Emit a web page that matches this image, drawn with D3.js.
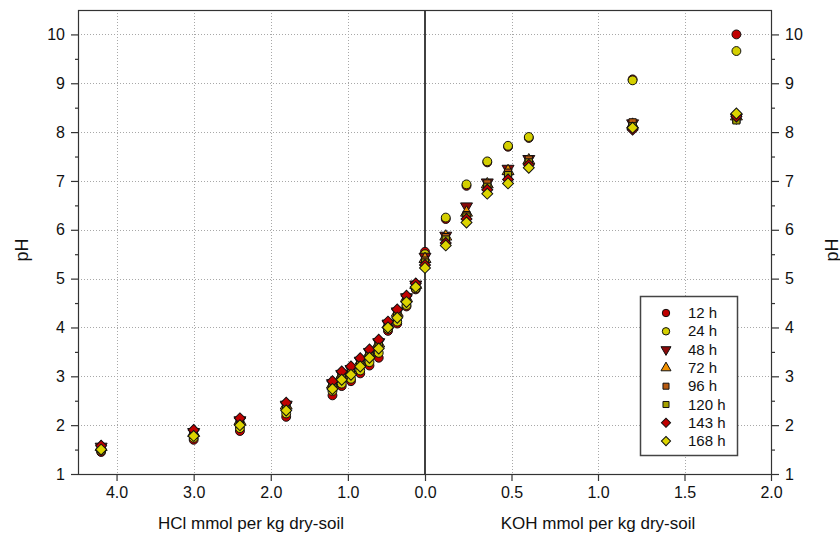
<!DOCTYPE html>
<html lang="en">
<head>
	<meta charset="UTF-8">
	<title>pH titration</title>
	<style>
		*{margin:0;padding:0;}
		body{background:#fff;}
		svg text{font-family:"Liberation Sans", Arial, sans-serif;}
	</style>
</head>
<body>
	<div id="container"></div>
	<script src="https://cdn.jsdelivr.net/npm/d3@7"></script>
	<script>
		// acid side (HCl) and base side (KOH) doses
		var hcl = [4.2, 3.0, 2.4, 1.8, 1.2, 1.08, 0.96, 0.84, 0.72, 0.6, 0.48, 0.36, 0.24, 0.12, 0]
		var koh = [0.12, 0.24, 0.36, 0.48, 0.6, 1.2, 1.8]
		var labels = ['12 h', '24 h', '48 h', '72 h', '96 h', '120 h', '143 h', '168 h']

		// pH values per series, HCl side then KOH side
		var acid12  = [1.45, 1.70, 1.88, 2.17, 2.61, 2.80, 2.90, 3.06, 3.22, 3.38, 3.93, 4.08, 4.43, 4.78, 5.55]
		var acid24  = [1.48, 1.74, 1.94, 2.24, 2.70, 2.85, 2.95, 3.12, 3.29, 3.48, 3.97, 4.12, 4.46, 4.80, 5.50]
		var acid48  = [1.56, 1.86, 2.10, 2.42, 2.86, 3.05, 3.15, 3.32, 3.50, 3.70, 4.08, 4.33, 4.62, 4.88, 5.45]
		var acid72  = [1.55, 1.84, 2.08, 2.40, 2.83, 3.02, 3.12, 3.29, 3.47, 3.67, 4.06, 4.30, 4.60, 4.87, 5.40]
		var acid96  = [1.54, 1.82, 2.05, 2.37, 2.80, 3.00, 3.10, 3.27, 3.45, 3.65, 4.05, 4.27, 4.57, 4.86, 5.37]
		var acid120 = [1.52, 1.80, 2.02, 2.34, 2.78, 2.97, 3.07, 3.24, 3.42, 3.62, 4.03, 4.24, 4.55, 4.85, 5.33]
		var acid143 = [1.58, 1.90, 2.14, 2.46, 2.90, 3.10, 3.20, 3.37, 3.55, 3.75, 4.12, 4.37, 4.65, 4.90, 5.28]
		var acid168 = [1.50, 1.78, 2.00, 2.30, 2.74, 2.93, 3.03, 3.20, 3.38, 3.57, 4.00, 4.20, 4.52, 4.83, 5.22]

		var base12  = [6.22, 6.90, 7.38, 7.70, 7.88, 9.08, 10.00]
		var base24  = [6.25, 6.93, 7.40, 7.72, 7.90, 9.06, 9.66]
		var base48  = [5.88, 6.48, 6.97, 7.25, 7.45, 8.18, 8.30]
		var base72  = [5.86, 6.35, 6.93, 7.20, 7.42, 8.15, 8.32]
		var base96  = [5.85, 6.30, 6.95, 7.17, 7.44, 8.20, 8.26]
		var base120 = [5.80, 6.27, 6.88, 7.12, 7.38, 8.12, 8.24]
		var base143 = [5.73, 6.22, 6.82, 7.03, 7.33, 8.05, 8.32]
		var base168 = [5.68, 6.15, 6.74, 6.95, 7.27, 8.09, 8.38]

		var yTicks = [1, 2, 3, 4, 5, 6, 7, 8, 9, 10]
		var hclTicks = [4, 3, 2, 1, 0]
		var kohTicks = [0.5, 1, 1.5, 2]

		var acid = [acid12, acid24, acid48, acid72, acid96, acid120, acid143, acid168]
		var base = [base12, base24, base48, base72, base96, base120, base143, base168]
		var symbols = [d3.symbolCircle, d3.symbolCircle, d3.symbolTriangle, d3.symbolTriangle,
			d3.symbolSquare, d3.symbolSquare, d3.symbolSquare, d3.symbolSquare]
		var turn = [0, 0, 180, 0, 0, 0, 45, 45]
		var colors = ['#c00000', '#d4cf00', '#8b0a0a', '#f09000', '#b85a10', '#a5a000', '#c00000', '#dcd400']
		var sizes = [62, 62, 62, 62, 52, 52, 60, 60]

		var width = 840, height = 549
		var pLeft = 78, pMid = 425, pRight = 771, pTop = 10, pBottom = 474

		var svg = d3.select('#container').append('svg').attr('width', width).attr('height', height)

		var xL = d3.scaleLinear().domain([4.5, 0]).range([pLeft, pMid])
		var xR = d3.scaleLinear().domain([0, 2]).range([pMid, pRight])
		var y = d3.scaleLinear().domain([1, 10.5]).range([pBottom, pTop])

		// grid
		var grid = svg.append('g').attr('stroke', '#a8a8a8').attr('stroke-dasharray', '1,2').attr('stroke-width', 1)
		grid.selectAll('.gy').data(yTicks.slice(1)).enter().append('line')
			.attr('x1', pLeft).attr('x2', pRight)
			.attr('y1', function (d) { return Math.round(y(d)) + 0.5 })
			.attr('y2', function (d) { return Math.round(y(d)) + 0.5 })
		grid.selectAll('.gl').data(hclTicks.slice(0, 4)).enter().append('line')
			.attr('x1', function (d) { return Math.round(xL(d)) + 0.5 })
			.attr('x2', function (d) { return Math.round(xL(d)) + 0.5 })
			.attr('y1', pTop).attr('y2', pBottom)
		grid.selectAll('.gr').data(kohTicks.slice(0, 3)).enter().append('line')
			.attr('x1', function (d) { return Math.round(xR(d)) + 0.5 })
			.attr('x2', function (d) { return Math.round(xR(d)) + 0.5 })
			.attr('y1', pTop).attr('y2', pBottom)

		// zero line
		svg.append('line').attr('x1', pMid).attr('x2', pMid).attr('y1', pTop).attr('y2', pBottom)
			.attr('stroke', '#111').attr('stroke-width', 1.6)

		// frame
		svg.append('rect').attr('x', pLeft + 0.5).attr('y', pTop + 0.5)
			.attr('width', pRight - pLeft).attr('height', pBottom - pTop)
			.attr('fill', 'none').attr('stroke', '#333').attr('stroke-width', 1.2)

		function styleAxis(g) {
			g.select('.domain').remove()
			g.selectAll('.tick line').attr('stroke', '#333').attr('stroke-width', 1.2)
			g.selectAll('.tick text').attr('font-size', 16).attr('fill', '#111')
				.style('font-family', '"Liberation Sans", Arial, sans-serif')
		}

		var minor = d3.range(1.5, 10.5, 1)
		svg.append('g').attr('transform', 'translate(' + pLeft + ',0)')
			.call(d3.axisLeft(y).tickValues(minor).tickSize(3).tickFormat(''))
			.call(styleAxis)
		svg.append('g').attr('transform', 'translate(' + pLeft + ',0)')
			.call(d3.axisLeft(y).tickValues(yTicks).tickSize(7).tickPadding(6).tickFormat(d3.format('d')))
			.call(styleAxis)
		svg.append('g').attr('transform', 'translate(' + (pRight + 1) + ',0)')
			.call(d3.axisRight(y).tickValues(minor).tickSize(3).tickFormat(''))
			.call(styleAxis)
		svg.append('g').attr('transform', 'translate(' + (pRight + 1) + ',0)')
			.call(d3.axisRight(y).tickValues(yTicks).tickSize(7).tickPadding(6).tickFormat(d3.format('d')))
			.call(styleAxis)
		svg.append('g').attr('transform', 'translate(0,' + (pBottom + 1) + ')')
			.call(d3.axisBottom(xL).tickValues(hclTicks).tickSize(6).tickPadding(6).tickFormat(d3.format('.1f')))
			.call(styleAxis)
		svg.append('g').attr('transform', 'translate(0,' + (pBottom + 1) + ')')
			.call(d3.axisBottom(xR).tickValues(kohTicks).tickSize(6).tickPadding(6).tickFormat(d3.format('.1f')))
			.call(styleAxis)

		// axis titles
		svg.append('text').text('pH').attr('transform', 'translate(28,250) rotate(-90)')
			.attr('text-anchor', 'middle').attr('font-size', 18).attr('fill', '#111')
		svg.append('text').text('pH').attr('transform', 'translate(838,250) rotate(-90)')
			.attr('text-anchor', 'middle').attr('font-size', 18).attr('fill', '#111')
		svg.append('text').text('HCl mmol per kg dry-soil').attr('x', 251).attr('y', 529)
			.attr('text-anchor', 'middle').attr('font-size', 17).attr('fill', '#111')
		svg.append('text').text('KOH mmol per kg dry-soil').attr('x', 598).attr('y', 529)
			.attr('text-anchor', 'middle').attr('font-size', 17).attr('fill', '#111')

		// points
		var marks = svg.append('g')
		labels.forEach(function (lab, i) {
			var sym = d3.symbol().type(symbols[i]).size(sizes[i])
			var pts = hcl.map(function (h, j) { return [xL(h), y(acid[i][j])] })
				.concat(koh.map(function (k, j) { return [xR(k), y(base[i][j])] }))
			marks.append('g').selectAll('path').data(pts).enter().append('path')
				.attr('d', sym)
				.attr('transform', function (p) {
					return 'translate(' + p[0] + ',' + p[1] + ') rotate(' + turn[i] + ')'
				})
				.attr('fill', colors[i]).attr('stroke', '#111').attr('stroke-width', 1)
		})

		// legend
		var lg = svg.append('g').attr('transform', 'translate(640,296)')
		lg.append('rect').attr('x', 0.5).attr('y', 0.5).attr('width', 97).attr('height', 159)
			.attr('fill', '#fff').attr('stroke', '#444').attr('stroke-width', 1.5)
		var row = lg.selectAll('.row').data(labels).enter().append('g')
			.attr('transform', function (d, i) { return 'translate(0,' + (17 + i * 18.3) + ')' })
		row.append('path')
			.attr('d', function (d, i) { return d3.symbol().type(symbols[i]).size(sizes[i] * 0.7)() })
			.attr('transform', function (d, i) { return 'translate(26,0) rotate(' + turn[i] + ')' })
			.attr('fill', function (d, i) { return colors[i] }).attr('stroke', '#111').attr('stroke-width', 1)
		row.append('text').text(function (d) { return d })
			.attr('x', 48).attr('y', 5).attr('font-size', 15).attr('fill', '#111')
	</script>
</body>
</html>
